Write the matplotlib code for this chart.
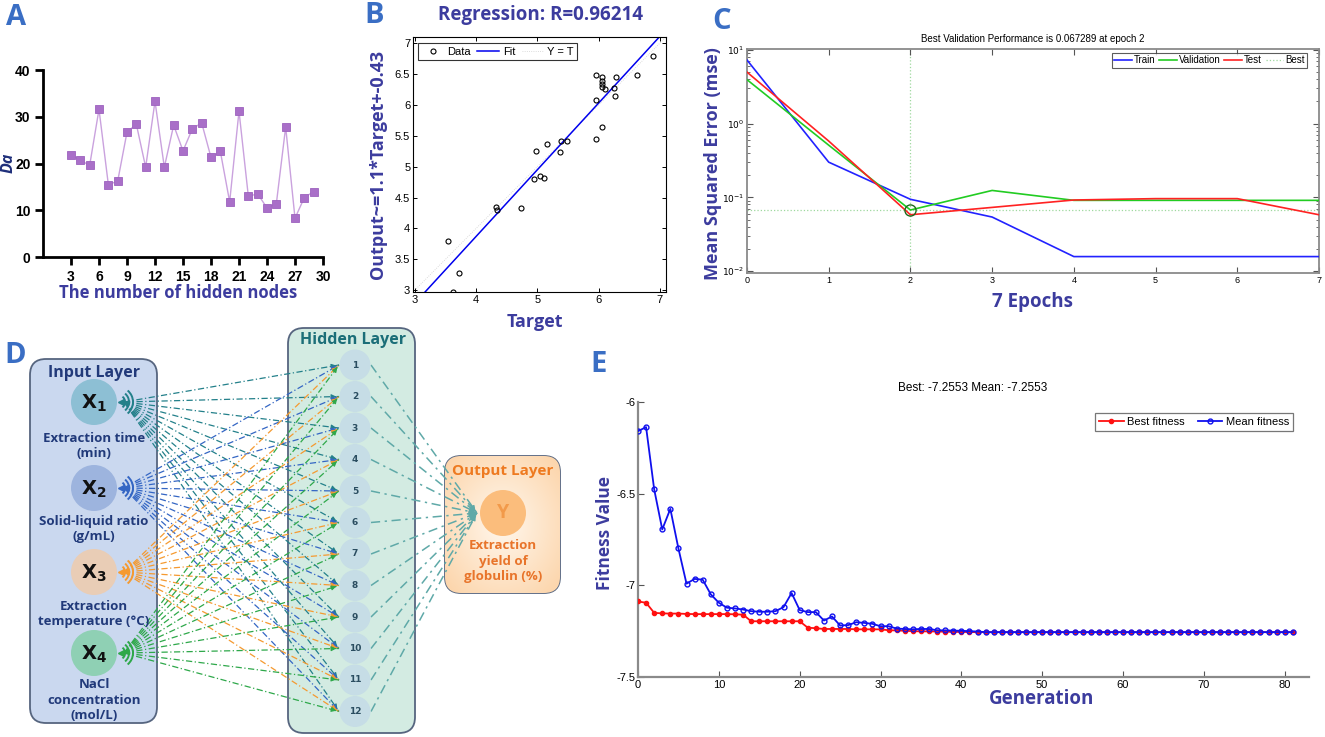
import numpy as np
import matplotlib
matplotlib.use('Agg')
import matplotlib.pyplot as plt
from matplotlib.patches import FancyBboxPatch, Circle, Arc
from matplotlib import font_manager
from matplotlib.ticker import LogLocator, NullFormatter, FixedLocator

W, H = 1325, 737

# ---------------- Data ----------------
# Panel A
hidden_nodes = list(range(3, 30))
da_values = [21.9, 20.7, 19.6, 31.6, 15.5, 16.2, 26.7, 28.4, 19.2, 33.3, 19.2, 28.2,
             22.7, 27.4, 28.7, 21.3, 22.6, 11.8, 31.2, 13.0, 13.5, 10.5, 11.4, 27.8,
             8.3, 12.7, 14.0]
a_xticks = [3, 6, 9, 12, 15, 18, 21, 24, 27, 30]
a_yticks = [0, 10, 20, 30, 40]

# Panel B
reg_target = [3.54, 3.62, 3.72, 4.33, 4.34, 4.73, 4.95, 4.98, 5.05, 5.11, 5.15, 5.37,
              5.38, 5.49, 5.95, 5.96, 5.96, 6.06, 6.06, 6.06, 6.06, 6.06, 6.11, 6.25,
              6.26, 6.29, 6.62, 6.89]
reg_output = [3.80, 2.97, 3.27, 4.35, 4.29, 4.33, 4.80, 5.25, 4.85, 4.82, 5.37, 5.23,
              5.42, 5.42, 6.08, 6.49, 5.45, 5.65, 6.46, 6.38, 6.34, 6.29, 6.25, 6.28,
              6.14, 6.45, 6.48, 6.79]
fit_slope = 1.08
fit_intercept = -0.45
b_ticks = [3, 3.5, 4, 4.5, 5, 5.5, 6, 6.5, 7]
b_xticks = [3, 4, 5, 6, 7]

# Panel C
epochs = [0, 1, 2, 3, 4, 5, 6, 7]
mse_train = [7.3, 0.30, 0.094, 0.054, 0.0157, 0.0157, 0.0157, 0.0157]
mse_valid = [3.95, 0.51, 0.0673, 0.124, 0.091, 0.091, 0.091, 0.091]
mse_test = [5.0, 0.58, 0.058, 0.073, 0.092, 0.096, 0.096, 0.058]
best_epoch = 2
best_perf = 0.067289

# Panel E
generations = list(range(0, 82))
mean_fitness = [-6.159, -6.137, -6.476, -6.695, -6.583, -6.799, -6.991, -6.965, -6.969,
                -7.049, -7.095, -7.122, -7.126, -7.132, -7.141, -7.144, -7.144, -7.141,
                -7.119, -7.042, -7.135, -7.146, -7.146, -7.192, -7.170, -7.219, -7.217,
                -7.201, -7.205, -7.210, -7.223, -7.223, -7.236, -7.238, -7.240, -7.238,
                -7.238, -7.245, -7.246, -7.247, -7.248, -7.250, -7.252] + [-7.2553] * 39
best_fitness = [-7.088, -7.095, -7.150, -7.153, -7.154, -7.154, -7.156, -7.157, -7.157,
                -7.157, -7.157, -7.157, -7.158, -7.160] + [-7.196] * 7 + \
               [-7.231, -7.234] + [-7.238] * 4 + [-7.240] * 4 + \
               [-7.245, -7.246, -7.248, -7.250, -7.251, -7.251, -7.252, -7.253, -7.254,
                -7.254, -7.255] + [-7.2553] * 40
e_xticks = [0, 10, 20, 30, 40, 50, 60, 70, 80]
e_yticks = [-7.5, -7, -6.5, -6]
e_yticklabels = ['-7.5', '-7', '-6.5', '-6']

# Panel D
input_labels = [r'$\mathbf{X_1}$', r'$\mathbf{X_2}$', r'$\mathbf{X_3}$', r'$\mathbf{X_4}$']
input_desc = ['Extraction time\n(min)', 'Solid-liquid ratio\n(g/mL)',
              'Extraction\ntemperature (°C)', 'NaCl\nconcentration\n(mol/L)']
hidden_labels = [str(i) for i in range(1, 13)]

# ---------------- Style ----------------
names = {f.name for f in font_manager.fontManager.ttflist}
narrow = 'Liberation Sans Narrow' if 'Liberation Sans Narrow' in names else 'Liberation Sans'
LABEL_FONT = 'Open Sans'
LAB_COL = '#3c3c9e'
LETTER_COL = '#3a6ec4'

plt.rcParams['font.family'] = ['DejaVu Sans']
fig = plt.figure(figsize=(W / 100, H / 100), dpi=100)


def px_axes(l, t, r, b, **kw):
    return fig.add_axes([l / W, 1 - b / H, (r - l) / W, (b - t) / H], **kw)


def ftext(x, y, s, **kw):
    kw.setdefault('ha', 'center')
    kw.setdefault('va', 'center')
    return fig.text(x / W, 1 - y / H, s, **kw)


# ---------------- Overlay axes (panel D + letters) ----------------
axd = fig.add_axes([0, 0, 1, 1])
axd.set_xlim(0, W)
axd.set_ylim(H, 0)
axd.axis('off')

in_box = FancyBboxPatch((30, 359), 127, 364, boxstyle='round,pad=0,rounding_size=16',
                        fc='#cad8ef', ec='#56657f', lw=1.3, zorder=1)
hid_box = FancyBboxPatch((288, 328), 127, 405, boxstyle='round,pad=0,rounding_size=16',
                         fc='#d3ebe2', ec='#56657f', lw=1.3, zorder=1)
out_box = FancyBboxPatch((445, 456), 115, 137, boxstyle='round,pad=0,rounding_size=16',
                         fc='#fde0c4', ec='#56657f', lw=1.3, zorder=1)
for p in (in_box, hid_box, out_box):
    axd.add_patch(p)

gx, gy = np.meshgrid(np.linspace(-1, 1, 120), np.linspace(-1, 1, 140))
rr = np.clip(np.sqrt(gx ** 2 + gy ** 2) / 1.3, 0, 1)
c0 = np.array([1.0, 0.97, 0.93])
c1 = np.array([0.99, 0.84, 0.68])
img = c0[None, None, :] * (1 - rr[..., None]) + c1[None, None, :] * rr[..., None]
im = axd.imshow(img, extent=[445, 560, 593, 456], aspect='auto', zorder=1.1)
im.set_clip_path(out_box)
axd.set_xlim(0, W)
axd.set_ylim(H, 0)

in_y = [402, 488, 572, 653]
in_x = 94
in_cols = ['#8dbfd4', '#9db4de', '#e9cdb6', '#8fd0b4']
line_cols = ['#23808a', '#3466c4', '#f59a30', '#2ea84a']
hid_x = 355
hid_y = [365 + i * 31.5 for i in range(12)]
out_xy = (503, 513)

for i in range(4):
    for j in range(12):
        x0, y0 = 124, in_y[i]
        x1, y1 = hid_x - 16, hid_y[j]
        axd.plot([x0, x1], [y0, y1], color=line_cols[i], lw=0.9,
                 ls=(0, (5, 2, 1, 2)), zorder=2)
        d = np.hypot(x1 - x0, y1 - y0)
        axd.annotate('', xy=(x1, y1), xytext=(x1 - 6 * (x1 - x0) / d, y1 - 6 * (y1 - y0) / d),
                     arrowprops=dict(arrowstyle='-|>', color=line_cols[i], lw=0.8,
                                     mutation_scale=7), zorder=2)

for j in range(12):
    x0, y0 = hid_x + 16, hid_y[j]
    x1, y1 = out_xy[0] - 26, out_xy[1]
    axd.plot([x0, x1], [y0, y1], color='#5fa9a8', lw=1.1, ls=(0, (6, 3, 1.5, 3)), zorder=2)
    d = np.hypot(x1 - x0, y1 - y0)
    axd.annotate('', xy=(x1, y1), xytext=(x1 - 6 * (x1 - x0) / d, y1 - 6 * (y1 - y0) / d),
                 arrowprops=dict(arrowstyle='-|>', color='#5fa9a8', lw=0.8,
                                 mutation_scale=7), zorder=2)

for i in range(4):
    axd.add_patch(Circle((in_x, in_y[i]), 23, fc=in_cols[i], ec='none', zorder=3))
    axd.text(in_x, in_y[i] + 1, input_labels[i], ha='center', va='center',
             fontsize=14, color='#111111', zorder=4)
    axd.plot([121], [in_y[i]], marker='<', ms=4, color=line_cols[i], zorder=4)
    for rad in (7, 11, 15):
        axd.add_patch(Arc((118, in_y[i]), 2 * rad, 2 * rad, theta1=-50, theta2=50,
                          color=line_cols[i], lw=1.4, zorder=4))

desc_y = [446, 529, 614, 700]
for i in range(4):
    axd.text(in_x, desc_y[i], input_desc[i], ha='center', va='center', fontsize=9.5,
             family=LABEL_FONT, weight='bold', color='#213a7a', linespacing=1.25, zorder=5)
axd.text(94, 373, 'Input Layer', ha='center', va='center', fontsize=11.5,
         family=LABEL_FONT, weight='bold', color='#223a7a', zorder=5)

for j in range(12):
    axd.add_patch(Circle((hid_x, hid_y[j]), 15.5, fc='#c6dde6', ec='none', zorder=3))
    axd.text(hid_x, hid_y[j], hidden_labels[j], ha='center', va='center', fontsize=6.5,
             weight='bold', color='#2a4d60', zorder=4)
axd.text(353, 340, 'Hidden Layer', ha='center', va='center', fontsize=11.5,
         family=LABEL_FONT, weight='bold', color='#1b6e78', zorder=5)

axd.add_patch(Circle(out_xy, 23, fc='#fbbd7c', ec='none', zorder=3))
axd.text(out_xy[0], out_xy[1], 'Y', ha='center', va='center', fontsize=14,
         family=LABEL_FONT, color='#f29a4a', weight='bold', zorder=4)
axd.text(503, 471, 'Output Layer', ha='center', va='center', fontsize=11,
         family=LABEL_FONT, weight='bold', color='#ee7a20', zorder=5)
axd.text(503, 561, 'Extraction\nyield of\nglobulin (%)', ha='center', va='center',
         fontsize=9.5, family=LABEL_FONT, weight='bold', color='#e8742a',
         linespacing=1.25, zorder=5)

for L, (lx, ly) in zip('ABCDE', [(16, 17), (374, 15), (722, 21), (15, 355), (599, 364)]):
    axd.text(lx, ly, L, ha='center', va='center', fontsize=21, family=LABEL_FONT,
             weight='bold', color=LETTER_COL)

# ---------------- Panel A ----------------
axA = px_axes(43, 70, 323, 257)
axA.plot(hidden_nodes, da_values, color='#caa2de', lw=1.0, zorder=2)
axA.plot(hidden_nodes, da_values, ls='none', marker='s', ms=5.6, mfc='#a96fc8',
         mec='#9d62be', mew=0.6, zorder=3)
axA.set_xlim(0, 30)
axA.set_ylim(0, 40)
axA.set_xticks(a_xticks)
axA.set_yticks(a_yticks)
for s in ('top', 'right'):
    axA.spines[s].set_visible(False)
for s in ('left', 'bottom'):
    axA.spines[s].set_linewidth(2)
axA.tick_params(direction='out', length=6, width=2, labelsize=10, pad=3)
for t in axA.get_xticklabels() + axA.get_yticklabels():
    t.set_fontweight('bold')
    t.set_family('Liberation Sans')
ftext(9, 163, 'Da', rotation=90, fontsize=11.5, family=LABEL_FONT, weight='bold',
      style='italic', color='#1f2f7a')
ftext(178, 293, 'The number of hidden nodes', fontsize=12, family=LABEL_FONT,
      weight='bold', color=LAB_COL)

# ---------------- Panel B ----------------
axB = px_axes(413, 37, 666, 292)
lim = (2.97, 7.1)
axB.plot(lim, lim, color='#d0d0d0', lw=0.6, ls=':', label='Y = T', zorder=1)
fx = np.array(lim)
axB.plot(fx, fit_slope * fx + fit_intercept, color='#0000ee', lw=1.1, label='Fit', zorder=2)
axB.plot(reg_target, reg_output, ls='none', marker='o', ms=3.6, mfc='none', mec='black',
         mew=0.8, label='Data', zorder=3)
axB.set_xlim(lim)
axB.set_ylim(lim)
axB.set_xticks(b_xticks)
axB.set_yticks(b_ticks)
axB.set_yticklabels(['3', '3.5', '4', '4.5', '5', '5.5', '6', '6.5', '7'])
axB.tick_params(direction='in', length=3, width=0.7, labelsize=8, top=True, right=True, pad=2)
for t in axB.get_xticklabels() + axB.get_yticklabels():
    t.set_family(narrow)
for s in axB.spines.values():
    s.set_linewidth(0.8)
h, l = axB.get_legend_handles_labels()
legB = axB.legend([h[2], h[1], h[0]], [l[2], l[1], l[0]], ncol=3, loc='upper left',
                  bbox_to_anchor=(0.02, 0.975), fontsize=8, frameon=True, fancybox=False,
                  edgecolor='black', handlelength=2.0, handletextpad=0.3, columnspacing=0.6,
                  borderpad=0.3, borderaxespad=0)
legB.get_frame().set_linewidth(0.8)
for t in legB.get_texts():
    t.set_family(narrow)
ftext(540, 15, 'Regression: R=0.96214', fontsize=13.5, family=LABEL_FONT, weight='bold',
      color=LAB_COL)
ftext(378, 164, 'Output~=1.1*Target+-0.43', rotation=90, fontsize=13, family=LABEL_FONT,
      weight='bold', color=LAB_COL)
ftext(535, 322, 'Target', fontsize=13, family=LABEL_FONT, weight='bold', color=LAB_COL)

# ---------------- Panel C ----------------
axC = px_axes(747, 49, 1319, 273)
axC.set_yscale('log')
axC.axvline(best_epoch, color='#9fd89f', lw=0.9, ls=':', zorder=1)
axC.axhline(best_perf, color='#9fd89f', lw=0.9, ls=':', zorder=1)
axC.plot(epochs, mse_train, color='#2222ff', lw=1.2, label='Train', zorder=3)
axC.plot(epochs, mse_valid, color='#22cc22', lw=1.2, label='Validation', zorder=3)
axC.plot(epochs, mse_test, color='#ff2222', lw=1.2, label='Test', zorder=3)
axC.plot([], [], color='#9fd89f', lw=0.9, ls=':', label='Best')
axC.plot([best_epoch], [best_perf], marker='o', ms=8, mfc='none', mec='#1d6b1d', mew=1.0,
         zorder=4)
axC.set_xlim(0, 7)
axC.set_ylim(0.0094, 10.3)
axC.set_xticks(epochs)
axC.yaxis.set_major_locator(FixedLocator([0.01, 0.1, 1, 10]))
axC.set_yticklabels([r'$10^{-2}$', r'$10^{-1}$', r'$10^{0}$', r'$10^{1}$'])
axC.yaxis.set_minor_locator(LogLocator(base=10, subs=np.arange(2, 10)))
axC.yaxis.set_minor_formatter(NullFormatter())
axC.tick_params(which='both', direction='in', top=True, right=True, labelsize=6.5, pad=2,
                color='#555555')
axC.tick_params(which='major', length=4, width=0.8)
axC.tick_params(which='minor', length=2, width=0.6)
for s in axC.spines.values():
    s.set_color('#8a8a8a')
    s.set_linewidth(1.3)
for t in axC.get_xticklabels():
    t.set_family(narrow)
legC = axC.legend(ncol=4, loc='upper right', bbox_to_anchor=(0.979, 0.982), fontsize=7,
                  frameon=True, fancybox=False, edgecolor='#333333', handlelength=1.8,
                  handletextpad=0.2, columnspacing=0.4, borderpad=0.25, borderaxespad=0)
legC.get_frame().set_linewidth(0.8)
for t in legC.get_texts():
    t.set_family(narrow)
ftext(1033, 39, 'Best Validation Performance is 0.067289 at epoch 2', fontsize=7,
      family=narrow, color='black')
ftext(713, 164, 'Mean Squared Error (mse)', rotation=90, fontsize=13, family=LABEL_FONT,
      weight='bold', color=LAB_COL)
ftext(1033, 302, '7 Epochs', fontsize=13.5, family=LABEL_FONT, weight='bold', color=LAB_COL)

# ---------------- Panel E ----------------
axE = px_axes(638, 402, 1309, 677)
axE.plot(generations, best_fitness, color='#ff1010', lw=1.3, marker='.', ms=6,
         label='Best fitness', zorder=3)
axE.plot(generations, mean_fitness, color='#1010ee', lw=1.3, marker='o', ms=3.5,
         mfc='none', mew=1.0, label='Mean fitness', zorder=4)
axE.set_xlim(0, 83)
axE.set_ylim(-7.5, -6)
axE.set_xticks(e_xticks)
axE.set_yticks(e_yticks)
axE.set_yticklabels(e_yticklabels)
for s in ('top', 'right'):
    axE.spines[s].set_visible(False)
for s in ('left', 'bottom'):
    axE.spines[s].set_color('#8a8a8a')
    axE.spines[s].set_linewidth(1.6)
axE.tick_params(direction='in', length=4, width=0.8, color='#555555', labelsize=8, pad=2)
for t in axE.get_xticklabels() + axE.get_yticklabels():
    t.set_family(narrow)
legE = axE.legend(ncol=2, loc='upper right', bbox_to_anchor=(0.976, 0.96), fontsize=8,
                  frameon=True, fancybox=False, edgecolor='#555555', handlelength=2.2,
                  handletextpad=0.3, columnspacing=1.2, borderpad=0.35, borderaxespad=0)
legE.get_frame().set_linewidth(0.9)
for t in legE.get_texts():
    t.set_family(narrow)
ftext(973, 388, 'Best: -7.2553 Mean: -7.2553', fontsize=8.5, family=narrow, color='black')
ftext(605, 533, 'Fitness Value', rotation=90, fontsize=12.5, family=LABEL_FONT,
      weight='bold', color=LAB_COL)
ftext(1042, 699, 'Generation', fontsize=13.5, family=LABEL_FONT, weight='bold',
      color=LAB_COL)

fig.savefig('out.png', dpi=100)
